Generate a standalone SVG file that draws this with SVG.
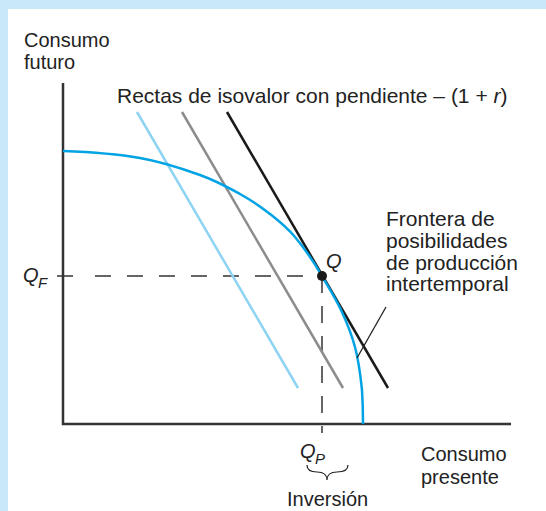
<svg xmlns="http://www.w3.org/2000/svg" width="546" height="511" viewBox="0 0 546 511">
<style>
text{font-family:"Liberation Sans",Arial,sans-serif;font-size:20px;fill:#222}
.big{font-size:21px}
.it{font-style:italic}
.sub{font-size:15px;font-style:italic}
.axis{stroke:#333;stroke-width:2.5;fill:none}
.dash{stroke:#333;stroke-width:1.5;fill:none;stroke-dasharray:16 16}
</style>
<rect x="0" y="0" width="546" height="511" fill="#fff"/>
<rect x="0" y="0" width="546" height="9" fill="#c9e9f9"/>
<rect x="0" y="0" width="8" height="511" fill="#c9e9f9"/>
<g id="axes">
<path class="axis" d="M63,83 V424 H511"/>
</g>
<g id="connectors">
<path class="dash" d="M57,276 H73"/>
<path class="dash" d="M95,276 H322"/>
<path class="dash" d="M322,276 V433" style="stroke-dasharray:17 13"/>
<line x1="137" y1="112" x2="298" y2="388" stroke="#8ed4f2" stroke-width="2.5"/>
<line x1="182" y1="112" x2="343" y2="388" stroke="#8c8c8c" stroke-width="2.5"/>
<line x1="227" y1="112" x2="388" y2="388" stroke="#1a1a1a" stroke-width="2.5"/>
<path d="M63,151 C90,152 117.2,154 140,158 C162.8,162 183.3,169 200,175 C216.7,181 228.3,187.5 240,194 C251.7,200.5 260.8,206.8 270,214 C279.2,221.2 286.3,226.7 295,237 C303.7,247.3 314.5,263.1 322,276 C329.5,288.9 335.5,298.2 341,310 C346.5,321.8 351.5,333.7 355,347 C358.5,360.3 360.7,377.2 362,390 C362.8,402.8 363,414 363,424" fill="none" stroke="#00a3e4" stroke-width="2.5"/>
<line x1="386" y1="307" x2="357" y2="358" stroke="#222" stroke-width="1.3"/>
<path d="M307,465 Q307,472 317,472 Q327,472 327,480 Q327,472 337,472 Q348,472 348,465" fill="none" stroke="#222" stroke-width="1.2"/>
</g>
<g id="Q">
<circle cx="322" cy="276" r="5" fill="#1a1a1a"/>
<text class="it" x="326" y="268">Q</text>
</g>
<g id="ylabel">
<text x="24" y="47">Consumo</text>
<text x="24" y="69">futuro</text>
</g>
<g id="xlabel">
<text x="421" y="461">Consumo</text>
<text x="421" y="484">presente</text>
</g>
<g id="isovalor">
<text class="big" x="117" y="103">Rectas de isovalor con pendiente – (1 + <tspan class="it">r</tspan>)</text>
</g>
<g id="frontera">
<text class="big" x="386" y="226">Frontera de</text>
<text class="big" x="386" y="248">posibilidades</text>
<text class="big" x="386" y="270">de producción</text>
<text class="big" x="386" y="291">intertemporal</text>
</g>
<g id="QF">
<text class="it" x="23" y="282">Q</text><text class="sub" x="38" y="288">F</text>
</g>
<g id="QP">
<text class="it" x="300" y="458">Q</text><text class="sub" x="315" y="464">P</text>
</g>
<g id="inversion">
<text x="287" y="506">Inversión</text>
</g>
</svg>
